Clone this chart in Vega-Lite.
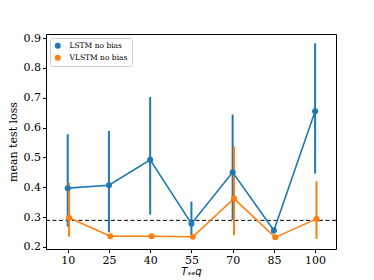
{
  "$schema": "https://vega.github.io/schema/vega-lite/v6.json",
  "autosize": "none",
  "width": 290,
  "height": 215,
  "padding": {"left": 46, "top": 34, "right": 38, "bottom": 31},
  "background": "white",
  "config": {
    "view": {"stroke": "black", "strokeWidth": 1},
    "font": "DejaVu Serif",
    "axis": {"grid": false, "domain": false, "tickColor": "black", "tickSize": 3.5, "labelColor": "black", "labelFont": "DejaVu Serif", "labelFontSize": 11, "titleFont": "DejaVu Serif", "titleFontWeight": "normal", "titleColor": "black", "titleFontSize": 11, "labelPadding": 2, "labelOverlap": false}
  },
  "datasets": {
    "pts": [
      {"series": "LSTM no bias", "T": 10, "mean": 0.397, "lo": 0.268, "hi": 0.578},
      {"series": "LSTM no bias", "T": 25, "mean": 0.407, "lo": 0.249, "hi": 0.589},
      {"series": "LSTM no bias", "T": 40, "mean": 0.492, "lo": 0.308, "hi": 0.703},
      {"series": "LSTM no bias", "T": 55, "mean": 0.278, "lo": 0.236, "hi": 0.352},
      {"series": "LSTM no bias", "T": 70, "mean": 0.450, "lo": 0.290, "hi": 0.644},
      {"series": "LSTM no bias", "T": 85, "mean": 0.255, "lo": 0.245, "hi": 0.265},
      {"series": "LSTM no bias", "T": 100, "mean": 0.655, "lo": 0.446, "hi": 0.883},
      {"series": "VLSTM no bias", "T": 10.5, "mean": 0.298, "lo": 0.234, "hi": 0.415},
      {"series": "VLSTM no bias", "T": 25.5, "mean": 0.236, "lo": 0.233, "hi": 0.239},
      {"series": "VLSTM no bias", "T": 40.5, "mean": 0.236, "lo": 0.233, "hi": 0.239},
      {"series": "VLSTM no bias", "T": 55.5, "mean": 0.234, "lo": 0.231, "hi": 0.237},
      {"series": "VLSTM no bias", "T": 70.5, "mean": 0.362, "lo": 0.240, "hi": 0.537},
      {"series": "VLSTM no bias", "T": 85.5, "mean": 0.232, "lo": 0.229, "hi": 0.235},
      {"series": "VLSTM no bias", "T": 100.5, "mean": 0.294, "lo": 0.227, "hi": 0.420}
    ],
    "ref": [{"v": 0.289}]
  },
  "encoding": {
    "x": {"type": "quantitative", "scale": {"domain": [2.1, 107.6], "nice": false, "zero": false}, "axis": {"values": [10, 25, 40, 55, 70, 85, 100], "labelFont": "DejaVu Serif", "title": "Tₛₑq", "titleFontStyle": "italic", "titleFont": "DejaVu Sans", "titleFontSize": 10, "titlePadding": 1}},
    "y": {"type": "quantitative", "scale": {"domain": [0.193, 0.914], "nice": false, "zero": false}, "axis": {"values": [0.2, 0.3, 0.4, 0.5, 0.6, 0.7, 0.8, 0.9], "labelFont": "DejaVu Serif", "format": ".1f", "title": "mean test loss", "titlePadding": 5, "labelOverlap": false}}
  },
  "layer": [
    {
      "data": {"name": "ref"},
      "mark": {"type": "rule", "color": "black", "strokeDash": [4, 2.5], "strokeWidth": 1},
      "encoding": {"y": {"field": "v"}}
    },
    {
      "data": {"name": "pts"},
      "mark": {"type": "rule", "strokeWidth": 2},
      "encoding": {
        "x": {"field": "T"},
        "y": {"field": "lo"},
        "y2": {"field": "hi"},
        "color": {"field": "series", "type": "nominal"}
      }
    },
    {
      "data": {"name": "pts"},
      "mark": {"type": "line", "strokeWidth": 1.6},
      "encoding": {
        "x": {"field": "T"},
        "y": {"field": "mean"},
        "color": {"field": "series", "type": "nominal"}
      }
    },
    {
      "data": {"name": "pts"},
      "mark": {"type": "point", "filled": true, "size": 36, "opacity": 1, "shape": "circle"},
      "encoding": {
        "x": {"field": "T"},
        "y": {"field": "mean"},
        "color": {"field": "series", "type": "nominal", "scale": {"domain": ["LSTM no bias", "VLSTM no bias"], "range": ["#1f77b4", "#ff7f0e"]},
          "legend": {"title": null, "orient": "top-left", "offset": 4, "labelFont": "DejaVu Serif", "labelFontSize": 7.5, "labelColor": "black", "symbolType": "circle", "symbolSize": 36, "symbolStrokeWidth": 0, "strokeColor": "#cccccc", "fillColor": "white", "padding": 4, "cornerRadius": 2, "rowPadding": 3, "labelOffset": 8}}
      }
    }
  ]
}
